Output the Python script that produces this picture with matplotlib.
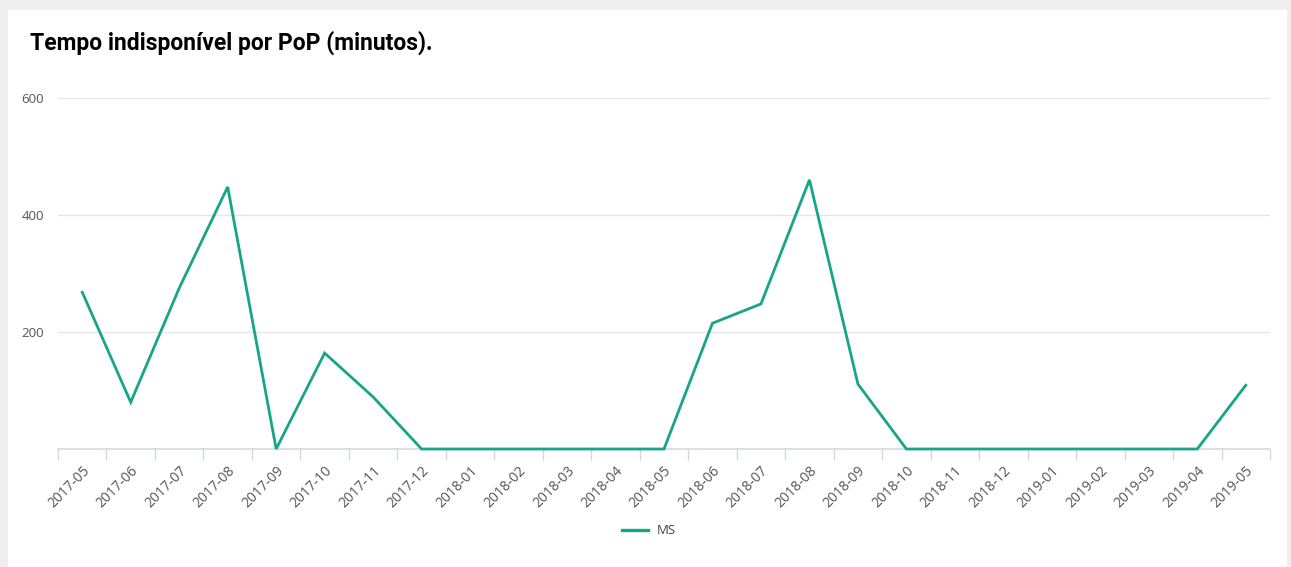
import matplotlib
matplotlib.use("Agg")
import matplotlib.pyplot as plt
from matplotlib.patches import Rectangle
from matplotlib.lines import Line2D

months = ["2017-05", "2017-06", "2017-07", "2017-08", "2017-09", "2017-10", "2017-11",
          "2017-12", "2018-01", "2018-02", "2018-03", "2018-04", "2018-05", "2018-06",
          "2018-07", "2018-08", "2018-09", "2018-10", "2018-11", "2018-12", "2019-01",
          "2019-02", "2019-03", "2019-04", "2019-05"]
ms_values = [268, 80, 275, 448, 0, 164, 89, 0, 0, 0, 0, 0, 0, 215, 248, 460, 111,
             0, 0, 0, 0, 0, 0, 0, 109]
yticks = [200, 400, 600]

W, H = 1291, 567
fig = plt.figure(figsize=(W / 100, H / 100), dpi=100)
fig.patch.set_facecolor("#efefef")
fig.patches.append(Rectangle((8 / W, 0), (1287 - 8) / W, (H - 10) / H,
                             transform=fig.transFigure, facecolor="white",
                             edgecolor="none", zorder=-5))

ax = fig.add_axes([58 / W, (H - 449) / H, 1212 / W, 351 / H])
ax.set_zorder(2)
ax.set_facecolor("none")
x = list(range(len(months)))
color = "#17a589"
ax.plot(x, ms_values, color=color, lw=2.0, solid_joinstyle="miter", zorder=3, clip_on=False)

ax.set_xlim(-0.5, len(months) - 0.5)
ax.set_ylim(0, 600)
ax.set_yticks(yticks)
ax.set_yticklabels([str(v) for v in yticks], fontsize=9.5, color="#555555", family="Open Sans")
ax.tick_params(axis="y", length=0, pad=10)
for v in yticks:
    ax.axhline(v, color="#e6e6e6", lw=1, zorder=1)

ax.set_xticks([i - 0.5 for i in range(len(months) + 1)], minor=False)
ax.set_xticklabels([])
ax.tick_params(axis="x", which="major", length=8, color="#d5d9df", width=1)
ax.set_xticks(x, minor=True)
ax.set_xticklabels(months, minor=True, rotation=45, ha="right", va="top",
                   rotation_mode="anchor", fontsize=10, color="#555555", family="Open Sans")
ax.tick_params(axis="x", which="minor", length=0, pad=10)

for s in ["top", "right", "left"]:
    ax.spines[s].set_visible(False)
ax.spines["bottom"].set_color("#d5d9df")
ax.spines["bottom"].set_linewidth(1.2)

fig.text(30 / W, 1 - 50 / H, "Tempo indisponível por PoP (minutos).", fontsize=16.5,
         fontweight="bold", family="Roboto", color="black", va="baseline")

# legend
ly = 1 - 530 / H
fig.lines.append(Line2D([622 / W, 648 / W], [ly, ly], transform=fig.transFigure,
                        color=color, lw=2.4))
fig.text(657 / W, ly, "MS", fontsize=9.5, color="#444444", family="Open Sans", va="center")

fig.savefig("out.png", dpi=100, facecolor=fig.get_facecolor())
